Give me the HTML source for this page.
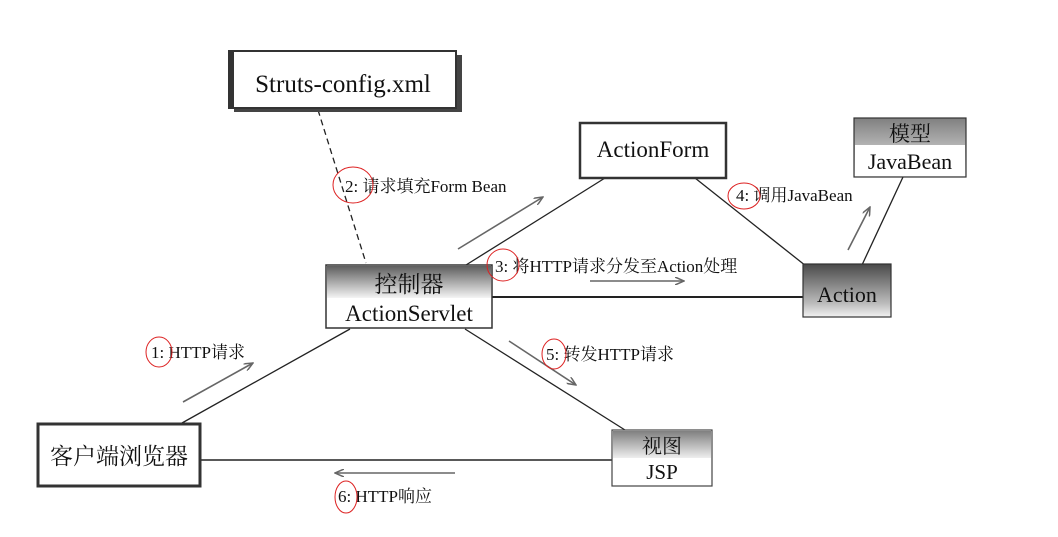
<!DOCTYPE html>
<html><head><meta charset="utf-8"><style>
html,body{margin:0;padding:0;background:#fff;}
svg{display:block;}
text{font-family:"Liberation Serif","Noto Serif CJK SC",serif;fill:#111;}
</style></head><body>
<svg width="1058" height="537" viewBox="0 0 1058 537" xmlns="http://www.w3.org/2000/svg">
<defs>
<linearGradient id="g1" x1="0" y1="0" x2="0" y2="1">
<stop offset="0" stop-color="#5e5e5e"/><stop offset="1" stop-color="#f4f4f4"/>
</linearGradient>
<linearGradient id="g2" x1="0" y1="0" x2="0" y2="1">
<stop offset="0" stop-color="#4a4a4a"/><stop offset="0.75" stop-color="#bdbdbd"/><stop offset="1" stop-color="#f2f2f2"/>
</linearGradient>
<linearGradient id="g3" x1="0" y1="0" x2="0" y2="1">
<stop offset="0" stop-color="#808080"/><stop offset="1" stop-color="#eee"/>
</linearGradient>
<marker id="ar" markerWidth="10" markerHeight="8" refX="9" refY="4" orient="auto" markerUnits="userSpaceOnUse">
<path d="M0,0 L9,4 L0,8" fill="none" stroke="#666" stroke-width="1.5"/>
</marker>
</defs>

<line x1="318" y1="110" x2="366" y2="263" stroke="#222" stroke-width="1.3" stroke-dasharray="6,4"/>
<line x1="466" y1="265" x2="605" y2="178" stroke="#222" stroke-width="1.3"/>
<line x1="695" y1="178" x2="806" y2="266" stroke="#222" stroke-width="1.3"/>
<line x1="862" y1="265" x2="903" y2="177" stroke="#222" stroke-width="1.3"/>
<line x1="492" y1="297" x2="803" y2="297" stroke="#222" stroke-width="2"/>
<line x1="350" y1="329" x2="182" y2="423" stroke="#222" stroke-width="1.3"/>
<line x1="465" y1="329" x2="625" y2="430" stroke="#222" stroke-width="1.3"/>
<line x1="200" y1="460" x2="612" y2="460" stroke="#222" stroke-width="1.6"/>

<g stroke="#666" stroke-width="1.6" marker-end="url(#ar)">
<line x1="183" y1="402" x2="253" y2="363"/>
<line x1="458" y1="249" x2="543" y2="197"/>
<line x1="590" y1="281" x2="684" y2="281"/>
<line x1="848" y1="250" x2="870" y2="207"/>
<line x1="509" y1="341" x2="576" y2="385"/>
<line x1="455" y1="473" x2="335" y2="473"/>
</g>

<rect x="234" y="55" width="228" height="57" fill="#444"/>
<rect x="229" y="51" width="227" height="57" fill="#fff" stroke="#333" stroke-width="2"/>
<rect x="229" y="51" width="5" height="57" fill="#333"/>
<text x="343" y="92" font-size="25" text-anchor="middle">Struts-config.xml</text>

<rect x="580" y="123" width="146" height="55" fill="#fff" stroke="#333" stroke-width="2.5"/>
<text x="653" y="157" font-size="23" text-anchor="middle">ActionForm</text>

<rect x="854" y="118" width="112" height="59" fill="url(#g3)" stroke="#333" stroke-width="1.2"/>
<rect x="855" y="145" width="110" height="31" fill="#fff"/>
<text x="910" y="141" font-size="21" text-anchor="middle">模型</text>
<text x="910" y="169" font-size="22" text-anchor="middle">JavaBean</text>

<rect x="803" y="264" width="88" height="53" fill="url(#g2)" stroke="#333" stroke-width="1.2"/>
<text x="847" y="302" font-size="22" text-anchor="middle">Action</text>

<rect x="326" y="265" width="166" height="63" fill="#fff" stroke="#333" stroke-width="1.5"/>
<rect x="327" y="266" width="164" height="32" fill="url(#g1)"/>
<text x="409" y="292" font-size="23" text-anchor="middle" font-family="Noto Sans CJK SC, sans-serif">控制器</text>
<text x="409" y="321" font-size="23" text-anchor="middle">ActionServlet</text>

<rect x="38" y="424" width="162" height="62" fill="#fff" stroke="#333" stroke-width="3"/>
<text x="119" y="464" font-size="23" text-anchor="middle" font-family="Noto Sans CJK SC, sans-serif">客户端浏览器</text>

<rect x="612" y="430" width="100" height="56" fill="#fff" stroke="#444" stroke-width="1.2"/>
<rect x="613" y="431" width="98" height="27" fill="url(#g3)"/>
<text x="662" y="453" font-size="20" text-anchor="middle" font-family="Noto Sans CJK SC, sans-serif">视图</text>
<text x="662" y="479" font-size="21" text-anchor="middle" font-family="Liberation Sans, sans-serif">JSP</text>

<g font-size="17">
<text x="151" y="358">1: HTTP请求</text>
<text x="345" y="192">2: 请求填充Form Bean</text>
<text x="495" y="272">3: 将HTTP请求分发至Action处理</text>
<text x="736" y="201">4: 调用JavaBean</text>
<text x="546" y="360">5: 转发HTTP请求</text>
<text x="338" y="502">6: HTTP响应</text>
</g>

<g fill="none" stroke="#d22" stroke-width="1">
<ellipse cx="159" cy="352" rx="13" ry="15"/>
<ellipse cx="353" cy="185" rx="20" ry="18"/>
<ellipse cx="503" cy="265" rx="16" ry="16"/>
<ellipse cx="744" cy="196" rx="16" ry="13"/>
<ellipse cx="554" cy="354" rx="12" ry="15"/>
<ellipse cx="346" cy="497" rx="11" ry="16"/>
</g>
</svg>
</body></html>
